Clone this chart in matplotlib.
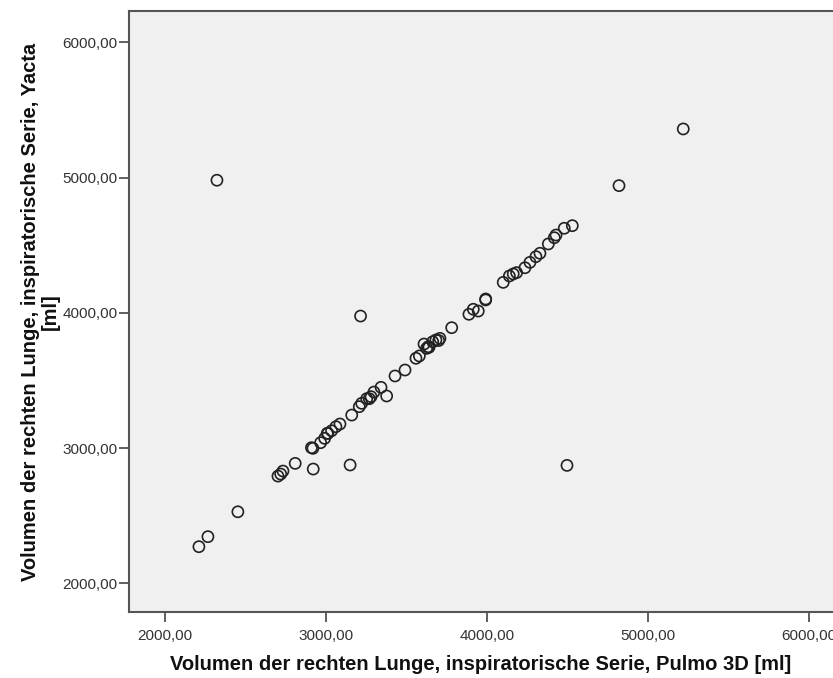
import matplotlib
matplotlib.use("Agg")
import matplotlib.pyplot as plt
from matplotlib.ticker import FuncFormatter

# Data (Pulmo 3D vs Yacta, right lung, inspiratory)
pulmo = [2323, 2211, 2267, 2453, 2702, 2719, 2733, 2809, 2921, 2919, 2910,
         2967, 2992, 3012, 3008, 3035, 3062, 3087, 3150, 3160, 3207, 3222,
         3253, 3269, 3280, 3298, 3342, 3377, 3429, 3491, 3559, 3580, 3609,
         3625, 3635, 3663, 3683, 3708, 3781, 3888, 3915, 3946, 3992, 3992,
         4101, 4139, 4163, 4184, 4236, 4267, 4304, 4329, 4381, 4418, 4429,
         4480, 4530, 4820, 5219, 3215, 4497, 3640, 3700]
yacta = [4980, 2271, 2345, 2529, 2793, 2808, 2830, 2887, 2845, 2998, 3003,
         3040, 3072, 3109, 3109, 3128, 3158, 3178, 2875, 3244, 3306, 3331,
         3365, 3365, 3380, 3414, 3449, 3385, 3533, 3577, 3664, 3681, 3769,
         3737, 3749, 3786, 3799, 3811, 3890, 3989, 4026, 4013, 4102, 4095,
         4225, 4272, 4287, 4297, 4333, 4373, 4415, 4440, 4509, 4555, 4575,
         4625, 4644, 4940, 5359, 3976, 2872, 3745, 3795]

xticks = [2000, 3000, 4000, 5000, 6000]
yticks = [2000, 3000, 4000, 5000, 6000]
xlabel = "Volumen der rechten Lunge, inspiratorische Serie, Pulmo 3D [ml]"
ylabel = "Volumen der rechten Lunge, inspiratorische Serie, Yacta\n[ml]"

W, H = 833, 678
fig = plt.figure(figsize=(W / 100, H / 100), dpi=100)
left, right, top, bottom = 128.7, 833, 11, 612.3
ax = fig.add_axes([left / W, 1 - bottom / H, (right - left) / W, (bottom - top) / H])
ax.set_facecolor("#f0f0f0")

ax.scatter(pulmo, yacta, s=64, facecolors="none", edgecolors="#222222", linewidths=1.2, zorder=3)

ax.set_xlim(1775, 6149)
ax.set_ylim(1786, 6231)
ax.set_xticks(xticks)
ax.set_yticks(yticks)
fmt = FuncFormatter(lambda v, p: f"{v:.2f}".replace(".", ","))
ax.xaxis.set_major_formatter(fmt)
ax.yaxis.set_major_formatter(fmt)
ax.tick_params(axis="both", length=7, width=1.2, color="#444444", labelsize=11,
               labelcolor="#333333")
ax.tick_params(axis="y", pad=1)
ax.tick_params(axis="x", pad=5)
for lab in ax.get_xticklabels() + ax.get_yticklabels():
    lab.set_family("Liberation Sans")

for side in ["left", "bottom", "top"]:
    ax.spines[side].set_color("#555555")
    ax.spines[side].set_linewidth(1.5)
ax.spines["right"].set_visible(False)

ax.set_xlabel(xlabel, family="Liberation Sans", fontweight="bold", fontsize=14.5,
              color="#111111", labelpad=9)
ax.set_ylabel(ylabel, family="Liberation Sans", fontweight="bold", fontsize=14.5,
              color="#111111", labelpad=2, linespacing=1.05)

fig.savefig("out.png", dpi=100, facecolor="white")
